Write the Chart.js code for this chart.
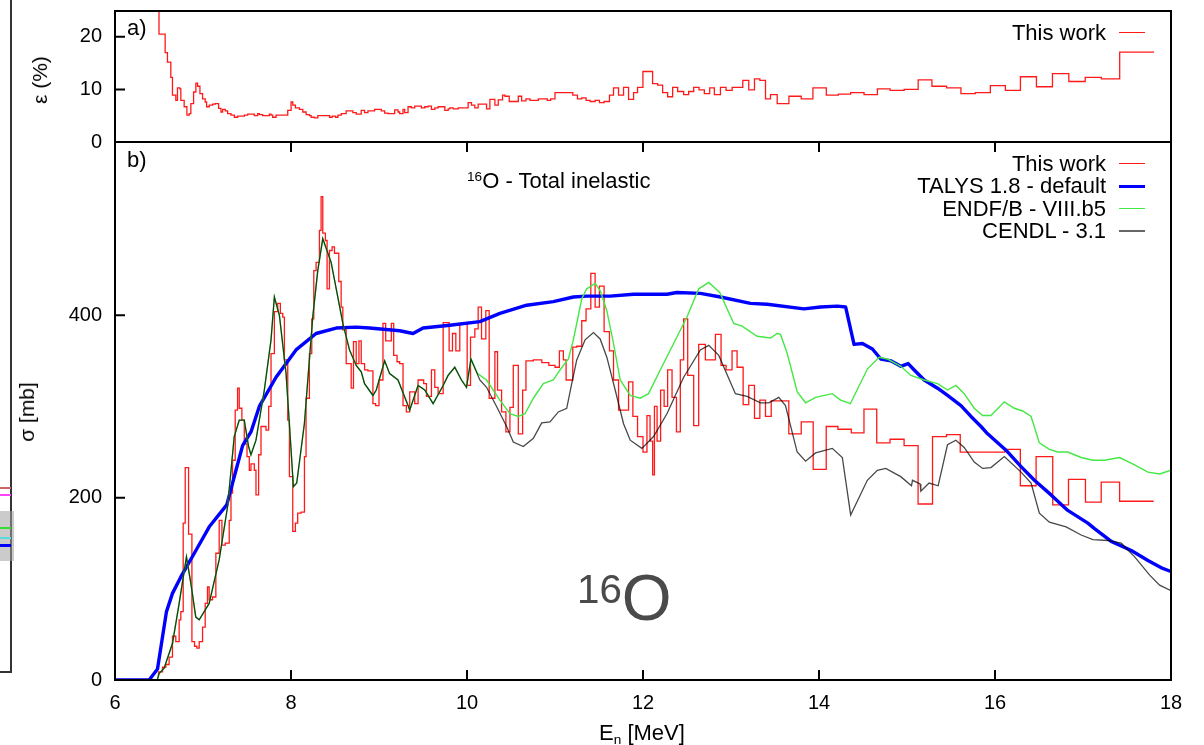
<!DOCTYPE html>
<html>
<head>
<meta charset="utf-8">
<script src="https://cdn.jsdelivr.net/npm/chart.js@4.4.1/dist/chart.umd.min.js"></script>
<style>
  body { margin: 0; background: #fff; }
  #wrap { position: relative; width: 1204px; height: 745px; overflow: hidden;
          font-family: "Liberation Sans", Arial, sans-serif; color: #000; background: #fff; }
  canvas { position: absolute; left: 0; top: 0; }
  .txt { position: absolute; white-space: nowrap; font-size: 22px; line-height: 22px; }
  .rot { position: absolute; white-space: nowrap; font-size: 21px; line-height: 22px;
         transform: translate(-50%, -50%) rotate(-90deg); }
  .key { position: absolute; height: 0; width: 26px; }
  .frag { position: absolute; }
  sup { font-size: 0.62em; vertical-align: 0; position: relative; top: -0.55em; }
  sub { font-size: 0.62em; vertical-align: 0; position: relative; top: 0.3em; }
</style>
</head>
<body>
<div id="wrap">
  <!-- piece of the neighbouring figure cut at the left edge -->
  <div class="frag" style="left:0;top:0;width:10px;height:671px;border-right:2px solid #333;border-bottom:2px solid #333"></div>
  <div class="frag" style="left:0;top:511px;width:14px;height:50px;background:rgba(160,160,160,0.55)"></div>
  <div class="frag" style="left:0;top:487px;width:11px;height:2px;background:#c66"></div>
  <div class="frag" style="left:0;top:494px;width:11px;height:2px;background:#f4f"></div>
  <div class="frag" style="left:0;top:527px;width:11px;height:2px;background:#3d3"></div>
  <div class="frag" style="left:0;top:537px;width:11px;height:2px;background:#5dd"></div>
  <div class="frag" style="left:0;top:544px;width:11px;height:3px;background:#00f"></div>

  <canvas id="sigma" width="1204" height="745"></canvas>
  <canvas id="eps" width="1204" height="745"></canvas>

  <div class="txt" style="left:127px;top:17px">a)</div>
  <div class="txt" style="left:127px;top:149px">b)</div>
  <div class="txt" style="left:467px;top:170px"><sup>16</sup>O - Total inelastic</div>
  <div class="rot" style="left:40px;top:80px">ε (%)</div>
  <div class="rot" style="left:27px;top:412px">σ [mb]</div>
  <div class="txt" style="left:599px;top:722px">E<sub>n</sub> [MeV]</div>
  <div class="txt" style="left:577px;top:566px;font-size:64px;line-height:64px;color:#4a4a4a"><sup style="font-size:0.63em;top:-0.42em">16</sup>O</div>
  <div id="legend"></div>
</div>

<script>
// axis ticks
const xTicks = [6, 8, 10, 12, 14, 16, 18];
const sigmaTicks = [0, 200, 400];
const epsTicks = [0, 10, 20];

// This work - cross section histogram: bin edges (MeV) and bin values (mb)
const expEdges = [6.494, 6.54, 6.577, 6.615, 6.653, 6.691, 6.729, 6.748, 6.775, 6.798, 6.836, 6.874, 6.904, 6.93, 6.957,
  6.995, 7.025, 7.051, 7.07, 7.108, 7.146, 7.184, 7.215, 7.253, 7.298, 7.318, 7.336, 7.366, 7.393, 7.412, 7.442, 7.469,
  7.5, 7.526, 7.545, 7.583, 7.602, 7.632, 7.659, 7.716, 7.746, 7.773, 7.811, 7.849, 7.879, 7.906, 7.925, 7.963, 7.982,
  8.02, 8.05, 8.076, 8.114, 8.153, 8.171, 8.209, 8.236, 8.259, 8.285, 8.323, 8.342, 8.361, 8.391, 8.41, 8.437, 8.467,
  8.494, 8.513, 8.543, 8.57, 8.589, 8.627, 8.684, 8.71, 8.741, 8.772, 8.798, 8.836, 8.874, 8.931, 8.962, 9.0, 9.045,
  9.076, 9.14, 9.167, 9.205, 9.235, 9.273, 9.311, 9.349, 9.406, 9.444, 9.508, 9.539, 9.596, 9.634, 9.672, 9.729, 9.797,
  9.835, 9.873, 9.918, 10.002, 10.04, 10.089, 10.127, 10.165, 10.214, 10.252, 10.317, 10.347, 10.393, 10.442, 10.488,
  10.526, 10.583, 10.632, 10.67, 10.754, 10.85, 10.93, 11.0, 11.05, 11.095, 11.126, 11.202, 11.247, 11.304, 11.353,
  11.407, 11.456, 11.505, 11.558, 11.619, 11.665, 11.722, 11.836, 11.885, 11.938, 12.0, 12.045, 12.08, 12.11, 12.13,
  12.16, 12.2, 12.24, 12.28, 12.33, 12.38, 12.424, 12.462, 12.508, 12.576, 12.633, 12.709, 12.766, 12.823, 12.887,
  12.944, 13.012, 13.069, 13.138, 13.202, 13.267, 13.328, 13.392, 13.457, 13.657, 13.798, 13.934, 14.082, 14.215,
  14.367, 14.511, 14.656, 14.807, 14.967, 15.126, 15.29, 15.449, 15.605, 16.113, 16.288, 16.467, 16.656, 16.835,
  17.028, 17.207, 17.416, 17.605, 17.803];
const expSigma = [4, 9, 14, 17, 25, 48, 42, 66, 75, 172, 233, 160, 42, 37, 35,
  42, 58, 84, 102, 88, 91, 139, 175, 148, 150, 175, 205, 241, 296, 320, 298, 285,
  259, 245, 230, 237, 230, 203, 247, 278, 274, 300, 358, 404, 413, 402, 398, 351, 285,
  223, 163, 172, 183, 184, 245, 309, 358, 396, 449, 458, 493, 530, 490, 482, 429, 471,
  475, 468, 468, 437, 409, 384, 347, 320, 371, 347, 372, 347, 340, 339, 303, 301, 329,
  391, 372, 391, 356, 349, 347, 301, 294, 316, 303, 329, 325, 311, 340, 321, 314, 392,
  361, 380, 361, 391, 323, 376, 385, 409, 374, 405, 309, 360, 318, 294, 272,
  299, 345, 270, 318, 350, 351, 348, 345, 343, 361, 351, 329, 365, 366,
  394, 407, 446, 409, 432, 382, 361, 329, 296, 327, 289, 267, 250, 290, 262, 225,
  300, 262, 318, 300, 340, 310, 272, 351, 396, 334, 279, 368, 351, 351, 379,
  345, 340, 361, 343, 302, 323, 287, 307, 289, 306, 270, 283, 231, 278,
  275, 271, 297, 260, 264, 257, 193, 267, 269, 250, 253, 213, 245, 192,
  220, 195, 217, 196];

// This work - relative uncertainty histogram: bin edges (MeV) and values (%)
const errEdges = [6.5, 6.57, 6.596, 6.634, 6.653, 6.691, 6.71, 6.737, 6.748, 6.786, 6.817, 6.843, 6.862, 6.893, 6.919,
  6.938, 6.965, 6.995, 7.025, 7.041, 7.071, 7.109, 7.139, 7.177, 7.204, 7.223, 7.253, 7.28, 7.318, 7.356, 7.394, 7.47,
  7.508, 7.583, 7.621, 7.64, 7.678, 7.754, 7.773, 7.792, 7.83, 7.963, 8.001, 8.02, 8.05, 8.096, 8.134, 8.172, 8.21,
  8.229, 8.267, 8.305, 8.438, 8.468, 8.506, 8.533, 8.571, 8.627, 8.703, 8.741, 8.798, 8.836, 8.874, 8.95, 9.026, 9.064,
  9.102, 9.178, 9.216, 9.235, 9.273, 9.292, 9.33, 9.368, 9.406, 9.482, 9.52, 9.558, 9.596, 9.634, 9.672, 9.748, 9.786,
  9.805, 9.843, 9.9, 10.013, 10.051, 10.089, 10.127, 10.222, 10.26, 10.317, 10.355, 10.404, 10.431, 10.48, 10.583,
  10.621, 10.67, 10.716, 10.811, 10.913, 10.951, 11.0, 11.202, 11.255, 11.304, 11.353, 11.399, 11.456, 11.505, 11.558,
  11.619, 11.665, 11.722, 11.779, 11.836, 11.893, 11.938, 11.999, 12.109, 12.166, 12.223, 12.28, 12.337, 12.394,
  12.462, 12.519, 12.576, 12.637, 12.697, 12.758, 12.811, 12.88, 12.944, 13.013, 13.134, 13.202, 13.267, 13.328,
  13.392, 13.449, 13.525, 13.658, 13.798, 13.931, 14.083, 14.22, 14.36, 14.512, 14.664, 14.808, 14.968, 15.127,
  15.283, 15.45, 15.613, 15.776, 15.947, 16.118, 16.289, 16.471, 16.653, 16.839, 17.025, 17.208, 17.417, 17.61, 17.808];
const errEps = [40, 20.5, 17.0, 15.2, 12.3, 8.9, 7.9, 10.3, 10.1, 7.9, 6.7, 5.1, 5.4, 7.3,
  9.5, 11.2, 10.6, 9.2, 8.2, 7.6, 6.7, 7.0, 7.2, 7.3, 6.4, 5.7, 6.2, 5.9, 5.4, 5.1, 4.7,
  4.9, 5.1, 5.3, 5.0, 5.4, 5.2, 5.0, 5.3, 5.1, 4.7, 5.1, 6.0, 7.6, 7.0, 6.5, 6.2, 5.7,
  5.2, 5.0, 4.7, 4.6, 5.0, 4.7, 4.9, 4.7, 5.1, 5.4, 5.9, 5.6, 5.3, 6.0, 5.6, 5.9, 6.2,
  5.9, 5.5, 5.4, 6.1, 5.7, 5.4, 6.2, 5.6, 6.7, 6.5, 6.8, 6.5, 6.7, 6.8, 6.2, 6.5, 6.7,
  6.0, 6.3, 6.5, 6.3, 6.5, 7.5, 7.0, 6.5, 7.2, 6.3, 8.1, 7.0, 8.0, 8.9, 8.7,
  7.7, 8.7, 7.8, 8.2, 7.9, 8.2, 7.9, 8.2, 9.4, 8.9, 8.2, 8.4, 7.9, 7.7,
  7.9, 7.5, 7.7, 8.9, 10.3, 8.9, 10.4, 8.1, 9.4, 10.4, 13.4, 11.1, 10.8, 9.4, 8.6,
  10.4, 9.6, 9.0, 9.6, 10.4, 9.9, 9.2, 10.3, 9.0, 10.4, 9.8, 10.4, 11.7, 9.9,
  12.0, 11.7, 8.2, 9.0, 7.3, 8.7, 8.2, 10.3, 8.9, 9.1, 9.4, 9.0, 10.1, 9.8,
  10.0, 11.8, 10.6, 10.3, 9.2, 9.4, 10.7, 9.8, 12.4, 10.5, 13.0, 11.5, 12.3, 12.0, 17.1];

// TALYS 1.8 - default
const talysE = [6.0, 6.388, 6.483, 6.585, 6.653, 6.748, 6.919, 7.071, 7.27, 7.38, 7.45, 7.545, 7.64, 7.83, 8.057, 8.285,
  8.513, 8.741, 8.893, 9.235, 9.387, 9.501, 9.805, 10.146, 10.374, 10.678, 10.981, 11.209, 11.36, 11.627, 11.893,
  12.272, 12.386, 12.652, 12.88, 13.221, 13.411, 13.829, 14.018, 14.208, 14.303, 14.398, 14.493, 14.607, 14.702,
  14.816, 14.93, 15.013, 15.082, 15.195, 15.347, 15.461, 15.613, 15.727, 15.841, 15.916, 16.125, 16.296, 16.448,
  16.637, 16.827, 17.055, 17.131, 17.321, 17.549, 17.738, 17.89, 18.0];
const talysSigma = [0, 0, 12, 75, 95, 113, 142, 168, 192, 232, 257, 272, 300, 332, 362, 380,
  386, 387, 386, 383, 380, 386, 389, 393, 402, 411, 415, 420, 421, 421, 423,
  423, 425, 424, 420, 413, 412, 407, 409, 410, 409, 368, 369, 363, 352,
  350, 344, 347, 340, 329, 320, 312, 301, 289, 278, 270, 252, 234, 219,
  203, 186, 172, 166, 152, 142, 131, 123, 119];

// ENDF/B - VIII.b5
const endfE = [6.48, 6.501, 6.558, 6.653, 6.729, 6.812, 6.862, 6.918, 6.957, 7.07, 7.184, 7.279, 7.355, 7.412, 7.469,
  7.518, 7.545, 7.602, 7.697, 7.773, 7.811, 7.868, 7.944, 8.001, 8.027, 8.065, 8.152, 8.247, 8.304, 8.361, 8.456,
  8.532, 8.589, 8.665, 8.741, 8.798, 8.836, 8.931, 8.969, 9.064, 9.121, 9.216, 9.33, 9.349, 9.444, 9.52, 9.615,
  9.729, 9.785, 9.861, 9.937, 9.994, 10.045, 10.12, 10.222, 10.374, 10.488, 10.583, 10.659, 10.754, 10.867, 10.981,
  11.057, 11.152, 11.209, 11.304, 11.361, 11.456, 11.513, 11.589, 11.665, 11.741, 11.855, 11.968, 12.063, 12.196,
  12.348, 12.5, 12.633, 12.747, 12.872, 13.031, 13.126, 13.297, 13.449, 13.525, 13.563, 13.639, 13.753, 13.848,
  13.962, 14.151, 14.246, 14.356, 14.55, 14.683, 14.778, 14.93, 15.044, 15.195, 15.347, 15.461, 15.556, 15.65,
  15.764, 15.859, 15.954, 16.106, 16.22, 16.315, 16.41, 16.504, 16.618, 16.713, 16.827, 16.979, 17.112, 17.245,
  17.416, 17.587, 17.738, 17.871, 18.0];
const endfSigma = [0, 7, 13, 40, 84, 135, 106, 69, 66, 84, 132, 190, 267, 285, 285,
  256, 247, 263, 318, 373, 420, 400, 336, 252, 212, 216, 281, 398, 449, 484, 458,
  420, 391, 362, 345, 338, 325, 312, 318, 350, 336, 329, 301, 296, 323, 318, 303,
  323, 334, 343, 329, 321, 352, 336, 329, 307, 292, 289, 292, 309, 325, 329,
  340, 352, 373, 418, 429, 435, 427, 405, 369, 329, 312, 309, 314, 340,
  369, 398, 429, 436, 425, 391, 388, 377, 375, 380, 379, 358, 316, 304,
  310, 314, 307, 303, 341, 354, 352, 344, 334, 329, 325, 318, 323, 314,
  298, 290, 290, 305, 298, 295, 289, 260, 253, 250, 250, 244, 241, 241,
  244, 236, 228, 226, 230];

// CENDL - 3.1 (same as ENDF below 10 MeV)
const cendlE = [6.48, 6.501, 6.558, 6.653, 6.729, 6.812, 6.862, 6.918, 6.957, 7.07, 7.184, 7.279, 7.355, 7.412, 7.469,
  7.518, 7.545, 7.602, 7.697, 7.773, 7.811, 7.868, 7.944, 8.001, 8.027, 8.065, 8.152, 8.247, 8.304, 8.361, 8.456,
  8.532, 8.589, 8.665, 8.741, 8.798, 8.836, 8.931, 8.969, 9.064, 9.121, 9.216, 9.33, 9.349, 9.444, 9.52, 9.615,
  9.729, 9.785, 9.861, 9.937, 9.994, 10.045, 10.146, 10.222, 10.336, 10.45, 10.526, 10.64, 10.754, 10.849, 10.943,
  11.038, 11.133, 11.19, 11.247, 11.342, 11.437, 11.513, 11.589, 11.684, 11.779, 11.855, 11.987, 12.12, 12.272,
  12.462, 12.652, 12.747, 12.861, 13.05, 13.183, 13.334, 13.429, 13.543, 13.619, 13.752, 13.847, 13.961, 14.151,
  14.265, 14.36, 14.549, 14.663, 14.758, 14.929, 15.051, 15.062, 15.149, 15.157, 15.251, 15.354, 15.46, 15.555,
  15.65, 15.764, 15.859, 15.954, 16.106, 16.296, 16.41, 16.504, 16.618, 16.808, 16.979, 17.112, 17.283, 17.435,
  17.587, 17.758, 17.871, 18.0];
const cendlSigma = [0, 7, 13, 40, 84, 135, 106, 69, 66, 84, 132, 190, 267, 285, 285,
  256, 247, 263, 318, 373, 420, 400, 336, 252, 212, 216, 281, 398, 449, 484, 458,
  420, 391, 362, 345, 338, 325, 312, 318, 350, 336, 329, 301, 296, 323, 318, 303,
  323, 334, 343, 329, 321, 352, 329, 321, 300, 278, 261, 256, 265, 282, 283,
  294, 298, 325, 351, 373, 381, 374, 354, 318, 281, 263, 254, 267, 292,
  332, 362, 367, 356, 314, 311, 304, 304, 310, 301, 250, 240, 249, 254,
  244, 181, 219, 230, 232, 223, 213, 219, 215, 207, 216, 213, 258, 263,
  255, 239, 232, 233, 245, 228, 216, 183, 173, 168, 159, 154, 153, 150,
  135, 115, 104, 98];

const legendTop = ['This work'];
const legendBottom = ['This work', 'TALYS 1.8 - default', 'ENDF/B - VIII.b5', 'CENDL - 3.1'];

const RED = '#ff1a1a';
const BLUE = '#0000ff';
const GREEN = '#44e844';
const DARK = 'rgba(0,0,0,0.72)';

const histPoints = (edges, vals) => {
  const pts = vals.map((v, i) => ({ x: edges[i], y: v }));
  pts.push({ x: edges[edges.length - 1], y: vals[vals.length - 1] });
  return pts;
};
const linePoints = (xs, ys) => xs.map((x, i) => ({ x, y: ys[i] }));

// frame and inward ticks like the original
const frameTicks = {
  id: 'frameTicks',
  afterDraw(chart, args, opts) {
    const { ctx, chartArea: a, scales } = chart;
    ctx.save();
    ctx.strokeStyle = '#000';
    ctx.lineWidth = 2;
    ctx.strokeRect(a.left, a.top, a.right - a.left, a.bottom - a.top);
    ctx.beginPath();
    scales.y.ticks.forEach(t => {
      const y = scales.y.getPixelForValue(t.value);
      if (y > a.top + 2 && y < a.bottom - 2) { ctx.moveTo(a.left, y); ctx.lineTo(a.left + 10, y); }
    });
    if (opts.xTicks) {
      scales.x.ticks.forEach(t => {
        const x = scales.x.getPixelForValue(t.value);
        if (x > a.left + 2 && x < a.right - 2) {
          ctx.moveTo(x, a.bottom); ctx.lineTo(x, a.bottom - 10);
          ctx.moveTo(x, a.top); ctx.lineTo(x, a.top + 10);
        }
      });
    }
    ctx.stroke();
    ctx.restore();
  }
};

const tickFont = { family: '"Liberation Sans", Arial, sans-serif', size: 20 };

// fixed axis width; drop the label overflow padding so the plot box stays where it is
const fixY = s => { s.width = 115; s.paddingTop = 0; s.paddingBottom = 0; };

const baseOpts = () => ({
  responsive: false,
  animation: false,
  devicePixelRatio: 1,
  events: [],
  elements: { point: { radius: 0 } }
});

new Chart(document.getElementById('sigma'), {
  type: 'line',
  data: {
    datasets: [
      { label: legendBottom[3], data: linePoints(cendlE, cendlSigma), borderColor: DARK, borderWidth: 1.3, order: 1 },
      { label: legendBottom[2], data: linePoints(endfE, endfSigma), borderColor: GREEN, borderWidth: 1.4, order: 2 },
      { label: legendBottom[1], data: linePoints(talysE, talysSigma), borderColor: BLUE, borderWidth: 3.4,
        borderJoinStyle: 'round', order: 3 },
      { label: legendBottom[0], data: histPoints(expEdges, expSigma), borderColor: RED, borderWidth: 1.3,
        stepped: 'after', order: 4 }
    ]
  },
  options: Object.assign(baseOpts(), {
    layout: { padding: { left: 0, right: 33, top: 142, bottom: 0 } },
    scales: {
      x: {
        type: 'linear', min: 6, max: 18,
        afterBuildTicks: s => { s.ticks = xTicks.map(v => ({ value: v })); },
        afterFit: s => { s.height = 65; },
        ticks: { font: tickFont, color: '#000', padding: 11, maxRotation: 0 },
        grid: { display: false, drawTicks: false },
        border: { display: false }
      },
      y: {
        min: 0, max: 590,
        afterBuildTicks: s => { s.ticks = sigmaTicks.map(v => ({ value: v })); },
        afterFit: fixY,
        ticks: { font: tickFont, color: '#000', padding: 13 },
        grid: { display: false, drawTicks: false },
        border: { display: false }
      }
    },
    plugins: { legend: { display: false }, tooltip: { enabled: false }, frameTicks: { xTicks: true } }
  }),
  plugins: [frameTicks]
});

new Chart(document.getElementById('eps'), {
  type: 'line',
  data: {
    datasets: [
      { label: legendTop[0], data: histPoints(errEdges, errEps), borderColor: RED, borderWidth: 1.3, stepped: 'after' }
    ]
  },
  options: Object.assign(baseOpts(), {
    layout: { padding: { left: 0, right: 33, top: 11, bottom: 603 } },
    scales: {
      x: { type: 'linear', min: 6, max: 18, display: false },
      y: {
        min: 0, max: 24.9,
        afterBuildTicks: s => { s.ticks = epsTicks.map(v => ({ value: v })); },
        afterFit: fixY,
        ticks: { font: tickFont, color: '#000', padding: 13 },
        grid: { display: false, drawTicks: false },
        border: { display: false }
      }
    },
    plugins: { legend: { display: false }, tooltip: { enabled: false }, frameTicks: { xTicks: false } }
  }),
  plugins: [frameTicks]
});

// gnuplot style key: right aligned text with a short sample line
const keyStyles = [
  { color: RED, width: 1.3 }, { color: BLUE, width: 3.4 }, { color: GREEN, width: 1.6 }, { color: 'rgba(0,0,0,0.6)', width: 2 }
];
const legend = document.getElementById('legend');
const addKey = (text, cy, st) => {
  const t = document.createElement('div');
  t.className = 'txt';
  t.style.right = (1204 - 1106) + 'px';
  t.style.top = (cy - 11) + 'px';
  t.textContent = text;
  legend.appendChild(t);
  const k = document.createElement('div');
  k.className = 'key';
  k.style.left = '1119px';
  k.style.top = (cy - st.width / 2) + 'px';
  k.style.borderTop = st.width + 'px solid ' + st.color;
  legend.appendChild(k);
};
legendTop.forEach(s => addKey(s, 33, keyStyles[0]));
legendBottom.forEach((s, i) => addKey(s, 164 + i * 22.3, keyStyles[i]));
</script>
</body>
</html>
